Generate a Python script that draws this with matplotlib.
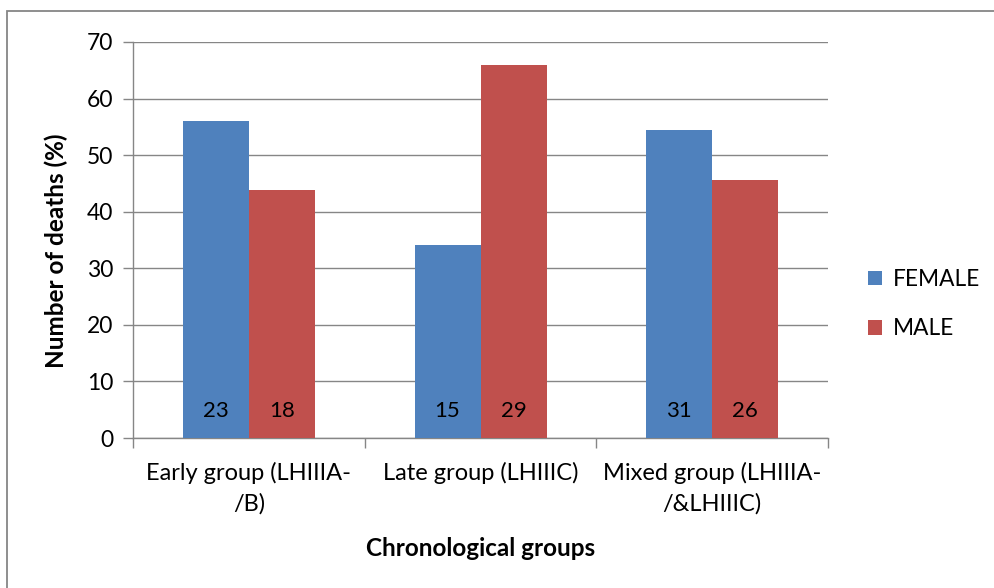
import numpy as np
import matplotlib.pyplot as plt
from matplotlib.patches import Rectangle

plt.rcParams['font.family'] = ['Lato', 'DejaVu Sans']

# data
groups = ['Early group (LHIIIA-\n/B)', 'Late group (LHIIIC)', 'Mixed group (LHIIIA-\n/&LHIIIC)']
female_pct = [56.1, 34.1, 54.4]
male_pct = [43.9, 65.9, 45.6]
female_n = [23, 15, 31]
male_n = [18, 29, 26]

blue = '#4F81BD'
red = '#C0504D'
grey = '#868686'

fig = plt.figure(figsize=(9.95, 5.88), dpi=100)
ax = fig.add_axes([0.1337, 0.2551, 0.6985, 0.6735])

# outer chart border (only top and left visible in the reference)
fig.patches.append(Rectangle((0.007, -0.1), 1.2, 0.1 + 0.981, transform=fig.transFigure,
                             fill=False, edgecolor=grey, linewidth=1.3))

x = np.arange(len(groups))
w = 0.285
b1 = ax.bar(x - w / 2, female_pct, w, color=blue, label='FEMALE', zorder=3)
b2 = ax.bar(x + w / 2, male_pct, w, color=red, label='MALE', zorder=3)

for bars, nums in ((b1, female_n), (b2, male_n)):
    for bar, n in zip(bars, nums):
        ax.text(bar.get_x() + bar.get_width() / 2, 4.8, str(n), ha='center', va='center',
                fontsize=16, zorder=4)

ax.set_xlim(-0.5, 2.5)
ax.set_ylim(0, 70)
ax.set_yticks(np.arange(0, 71, 10))
ax.yaxis.grid(True, color=grey, linewidth=1, zorder=0)

# category ticks sit on the boundaries between groups
ax.set_xticks([-0.5, 0.5, 1.5, 2.5])
ax.set_xticklabels([])
ax.set_xticks(x, minor=True)
ax.set_xticklabels(groups, minor=True, fontsize=17, linespacing=1.55)
ax.tick_params(axis='x', which='minor', length=0, pad=17)
ax.tick_params(axis='x', which='major', length=7, color=grey, width=1)
ax.tick_params(axis='y', length=7, color=grey, width=1, labelsize=16.5, pad=7)

for side in ('top', 'right'):
    ax.spines[side].set_visible(False)
for side in ('left', 'bottom'):
    ax.spines[side].set_color(grey)
    ax.spines[side].set_linewidth(1)

ax.set_ylabel('Number of deaths (%)', fontsize=17.5, fontweight='bold')
ax.yaxis.set_label_coords(-0.093, 0.472)
ax.set_xlabel('Chronological groups', fontsize=17.5, fontweight='bold', labelpad=16)

ax.legend(loc='center left', bbox_to_anchor=(1.058, 0.338), frameon=False, fontsize=16.3,
          handlelength=0.6, handleheight=0.6, handletextpad=0.5, labelspacing=1.25,
          borderpad=0, borderaxespad=0)

fig.savefig('out.png', dpi=100)
